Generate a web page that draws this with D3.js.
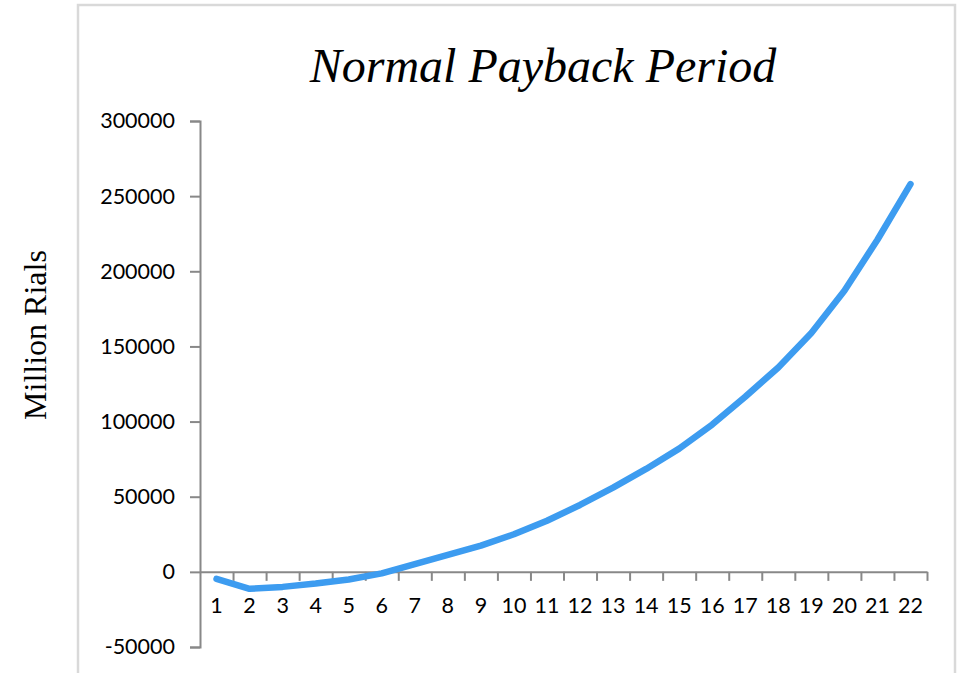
<!DOCTYPE html>
<html>
<head>
    <meta charset="utf-8">
    <title>Normal Payback Period</title>
    <script src="https://d3js.org/d3.v7.min.js"></script>
    <style>
        body {
            margin: 0;
            background-color: #ffffff;
        }
        .tick text {
            font-family: Lato, "Open Sans", sans-serif;
            font-size: 21.5px;
            fill: #000;
        }
    </style>
</head>
<body>
    <div class="container"></div>
    <script>
        // chart data
        const periods = d3.range(1, 23);
        const values = [-4700, -11300, -10000, -7800, -5100, -1000, 5200, 11300, 17500, 25000, 34000,
            44500, 56000, 68500, 82000, 98000, 116500, 136000, 159000, 187000, 221000, 258000];
        const yTicks = [-50000, 0, 50000, 100000, 150000, 200000, 250000, 300000];

        const titleText = 'Normal Payback Period';
        const yLabel = 'Million Rials';

        const width = 959;
        const height = 673;
        const margin = { top: 121, right: 32, bottom: 26, left: 200 };

        const svg = d3.select('.container').append('svg')
            .attr('width', width)
            .attr('height', height);

        // outer frame (runs past the bottom edge)
        svg.append('rect')
            .attr('x', 78)
            .attr('y', 5)
            .attr('width', 877)
            .attr('height', 720)
            .attr('fill', 'none')
            .attr('stroke', '#d9d9d9')
            .attr('stroke-width', 2.5);

        const x = d3.scaleBand()
            .domain(periods)
            .range([margin.left, width - margin.right]);

        const xEdge = d3.scaleLinear()
            .domain([0, periods.length])
            .range([margin.left, width - margin.right]);

        const y = d3.scaleLinear()
            .domain([-50000, 300000])
            .range([height - margin.bottom, margin.top]);

        // y axis
        const gy = svg.append('g')
            .attr('transform', `translate(${margin.left},0)`)
            .call(d3.axisLeft(y)
                .tickValues(yTicks)
                .tickFormat(d => String(d))
                .tickSize(10)
                .tickPadding(15));
        gy.select('.domain').attr('stroke', '#888').attr('stroke-width', 2);
        gy.selectAll('.tick line').attr('stroke', '#888').attr('stroke-width', 2);

        // x axis sits on zero, ticks between categories
        const gx = svg.append('g')
            .attr('transform', `translate(0,${y(0)})`)
            .call(d3.axisBottom(xEdge)
                .tickValues(d3.range(1, periods.length + 1))
                .tickFormat('')
                .tickSize(9)
                .tickSizeOuter(0));
        gx.select('.domain').attr('stroke', '#888').attr('stroke-width', 2);
        gx.selectAll('.tick line').attr('stroke', '#888').attr('stroke-width', 2);

        const gl = svg.append('g')
            .attr('transform', `translate(0,${y(0)})`)
            .call(d3.axisBottom(x).tickSize(0).tickPadding(26));
        gl.select('.domain').remove();

        // the series
        const line = d3.line()
            .x((d, i) => x(periods[i]) + x.bandwidth() / 2)
            .y(d => y(d));

        svg.append('path')
            .datum(values)
            .attr('fill', 'none')
            .attr('stroke', '#3d9cf0')
            .attr('stroke-width', 6.5)
            .attr('stroke-linecap', 'round')
            .attr('stroke-linejoin', 'round')
            .attr('d', line);

        // title
        svg.append('text')
            .attr('x', 543)
            .attr('y', 82)
            .attr('text-anchor', 'middle')
            .attr('font-family', '"Liberation Serif", "Times New Roman", serif')
            .attr('font-style', 'italic')
            .attr('font-size', 48)
            .text(titleText);

        // y label
        svg.append('text')
            .attr('transform', 'translate(46,335) rotate(-90)')
            .attr('text-anchor', 'middle')
            .attr('font-family', '"Liberation Serif", "Times New Roman", serif')
            .attr('font-size', 32)
            .text(yLabel);
    </script>
</body>
</html>
